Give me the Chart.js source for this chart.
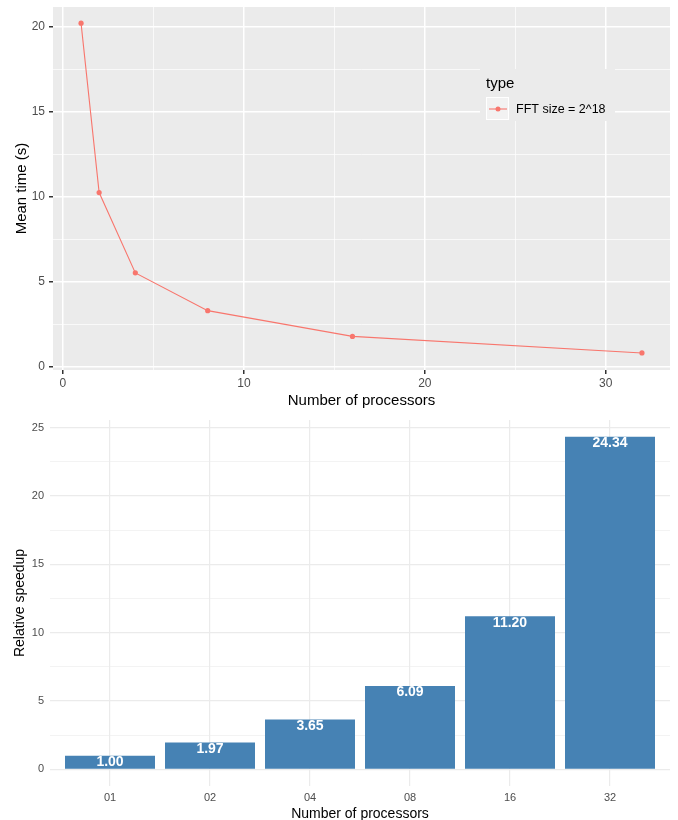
<!DOCTYPE html>
<html>
<head>
<meta charset="utf-8">
<script src="https://cdn.jsdelivr.net/npm/chart.js@4"></script>
<style>
  html, body { margin: 0; padding: 0; background: #fff; }
  .box { position: relative; width: 678px; height: 410px; }
</style>
</head>
<body>
<div class="box"><canvas id="timeChart"></canvas></div>
<div class="box"><canvas id="speedChart"></canvas></div>
<script>
// top chart: mean time per processor count
const processors = [1, 2, 4, 8, 16, 32];
const meanTime = [20.22, 10.26, 5.54, 3.32, 1.805, 0.831];
const timeTicksX = [0, 10, 20, 30];
const timeMinorX = [5, 15, 25];
const timeTicksY = [0, 5, 10, 15, 20];
const timeMinorY = [2.5, 7.5, 12.5, 17.5];

// bottom chart: relative speedup
const procLabels = ['01', '02', '04', '08', '16', '32'];
const speedup = [1.00, 1.97, 3.65, 6.09, 11.20, 24.34];
const speedTicksY = [0, 5, 10, 15, 20, 25];
const speedMinorY = [2.5, 7.5, 12.5, 17.5, 22.5];

Chart.defaults.font.family = '"Liberation Sans", Arial, sans-serif';
Chart.defaults.animation = false;

function setTicks(major, minor) {
  return scale => {
    const all = major.map(v => ({ value: v, isMinor: false }))
      .concat(minor.map(v => ({ value: v, isMinor: true })));
    all.sort((a, b) => a.value - b.value);
    scale.ticks = all;
  };
}
const isMinor = c => c.tick && c.tick.isMinor;
const tickLabel = (v, i, t) => (t[i].isMinor ? '' : v);
// fixed axis size, no extra room for edge labels
const fixWidth = w => s => { s.width = w; s.paddingTop = 0; s.paddingBottom = 0; };
const fixHeight = h => s => { s.height = h; s.paddingLeft = 0; s.paddingRight = 0; };

const panelBg = {
  id: 'panelBg',
  beforeDraw(chart, args, opts) {
    if (!opts.color) return;
    const { ctx, chartArea: a } = chart;
    ctx.save();
    ctx.fillStyle = opts.color;
    ctx.fillRect(a.left, a.top, a.right - a.left, a.bottom - a.top);
    ctx.restore();
  }
};

// ggplot-like legend inside the panel
const insideLegend = {
  id: 'insideLegend',
  afterDraw(chart) {
    const ctx = chart.ctx;
    const x = 480, y = 69;
    ctx.save();
    ctx.fillStyle = '#EBEBEB';
    ctx.fillRect(x, y, 135, 52);
    ctx.fillStyle = '#000';
    ctx.font = '15px "Liberation Sans", Arial';
    ctx.textBaseline = 'middle';
    ctx.fillText('type', x + 6, y + 15);
    ctx.fillStyle = '#F2F2F2';
    ctx.fillRect(x + 6, y + 28, 23, 23);
    ctx.strokeStyle = '#fff';
    ctx.lineWidth = 1;
    ctx.strokeRect(x + 6.5, y + 28.5, 22, 22);
    ctx.strokeStyle = '#F8766D';
    ctx.lineWidth = 1.1;
    ctx.beginPath();
    ctx.moveTo(x + 9, y + 40);
    ctx.lineTo(x + 27, y + 40);
    ctx.stroke();
    ctx.fillStyle = '#F8766D';
    ctx.beginPath();
    ctx.arc(x + 18, y + 40, 2.5, 0, Math.PI * 2);
    ctx.fill();
    ctx.fillStyle = '#000';
    ctx.font = '12.5px "Liberation Sans", Arial';
    ctx.fillText('FFT size = 2^18', x + 36, y + 41);
    ctx.restore();
  }
};

new Chart(document.getElementById('timeChart'), {
  type: 'line',
  data: {
    datasets: [{
      label: 'FFT size = 2^18',
      data: processors.map((p, i) => ({ x: p, y: meanTime[i] })),
      borderColor: '#F8766D',
      backgroundColor: '#F8766D',
      borderWidth: 1.1,
      pointRadius: 2.6,
      pointBorderWidth: 0,
      tension: 0
    }]
  },
  options: {
    responsive: true,
    maintainAspectRatio: false,
    layout: { padding: { left: 0, top: 7, right: 8, bottom: 0 } },
    plugins: {
      legend: { display: false },
      tooltip: { enabled: false },
      panelBg: { color: '#EBEBEB' }
    },
    scales: {
      x: {
        type: 'linear',
        min: -0.55,
        max: 33.55,
        afterBuildTicks: setTicks(timeTicksX, timeMinorX),
        afterFit: fixHeight(40),
        border: { display: false },
        grid: {
          color: '#fff',
          lineWidth: c => (isMinor(c) ? 0.7 : 1.5),
          tickColor: c => (isMinor(c) ? 'rgba(0,0,0,0)' : '#333'),
          tickLength: 4
        },
        ticks: { color: '#4D4D4D', font: { size: 12 }, padding: 2, maxRotation: 0, autoSkip: false, callback: tickLabel },
        title: { display: true, text: 'Number of processors', color: '#000', font: { size: 15 }, padding: { top: 0, bottom: 0.5 } }
      },
      y: {
        type: 'linear',
        min: -0.17,
        max: 21.17,
        afterBuildTicks: setTicks(timeTicksY, timeMinorY),
        afterFit: fixWidth(53),
        border: { display: false },
        grid: {
          color: '#fff',
          lineWidth: c => (isMinor(c) ? 0.7 : 1.5),
          tickColor: c => (isMinor(c) ? 'rgba(0,0,0,0)' : '#333'),
          tickLength: 4
        },
        ticks: { color: '#4D4D4D', font: { size: 12 }, padding: 4, autoSkip: false, callback: tickLabel },
        title: { display: true, text: 'Mean time (s)', color: '#000', font: { size: 15 }, padding: { top: 12.5, bottom: 0 } }
      }
    }
  },
  plugins: [panelBg, insideLegend]
});

const barLabels = {
  id: 'barLabels',
  afterDatasetsDraw(chart) {
    const ctx = chart.ctx;
    const meta = chart.getDatasetMeta(0);
    ctx.save();
    ctx.fillStyle = '#fff';
    ctx.font = 'bold 14px "Liberation Sans", Arial';
    ctx.textAlign = 'center';
    ctx.textBaseline = 'middle';
    meta.data.forEach((bar, i) => ctx.fillText(speedup[i].toFixed(2), bar.x, bar.y + 6.5));
    ctx.restore();
  }
};

new Chart(document.getElementById('speedChart'), {
  type: 'bar',
  data: {
    datasets: [{
      data: procLabels.map((lab, i) => ({ x: i + 1, y: speedup[i] })),
      backgroundColor: '#4682B4',
      borderWidth: 0,
      barPercentage: 0.9,
      categoryPercentage: 1
    }]
  },
  options: {
    responsive: true,
    maintainAspectRatio: false,
    layout: { padding: { left: 0, top: 10, right: 8, bottom: 0 } },
    plugins: {
      legend: { display: false },
      tooltip: { enabled: false }
    },
    scales: {
      x: {
        type: 'linear',
        min: 0.4,
        max: 6.6,
        offset: false,
        afterBuildTicks: setTicks(procLabels.map((l, i) => i + 1), []),
        afterFit: fixHeight(34),
        border: { display: false },
        grid: { color: '#EBEBEB', lineWidth: 1.2, drawTicks: false, offset: false },
        ticks: { color: '#4D4D4D', font: { size: 11 }, padding: 5, maxRotation: 0, autoSkip: false, callback: v => procLabels[v - 1] },
        title: { display: true, text: 'Number of processors', color: '#000', font: { size: 14 }, padding: { top: 0, bottom: -2.5 } }
      },
      y: {
        type: 'linear',
        min: -1.217,
        max: 25.56,
        afterBuildTicks: setTicks(speedTicksY, speedMinorY),
        afterFit: fixWidth(50),
        border: { display: false },
        grid: { color: '#EBEBEB', lineWidth: c => (isMinor(c) ? 0.6 : 1.2), drawTicks: false },
        ticks: { color: '#4D4D4D', font: { size: 11 }, padding: 6, autoSkip: false, callback: tickLabel },
        title: { display: true, text: 'Relative speedup', color: '#000', font: { size: 14 }, padding: { top: 12, bottom: 0 } }
      }
    }
  },
  plugins: [barLabels]
});
</script>
</body>
</html>
